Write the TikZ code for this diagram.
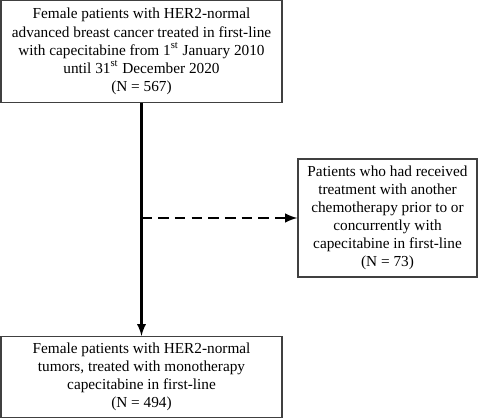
\documentclass[tikz,border=0pt]{standalone}
\usepackage{fontspec}
\setmainfont{Liberation Serif}
\usepackage{tikz}
\usetikzlibrary{calc}

\tikzset{
  flowbox/.style={draw=black!75, line width=0.6pt, align=center, inner sep=2pt,
    font=\fontsize{8.7}{10.3}\selectfont},
  flowline/.style={line width=1.3pt, ->, >=latex}
}

\begin{document}
\begin{tikzpicture}
    \useasboundingbox (0,0) rectangle (9.58,-8.36);
    \node[flowbox, minimum width=5.62cm, minimum height=2.04cm] (cohort) at (2.83,-1.03)
      {Female patients with HER2-normal\\
       advanced breast cancer treated in first-line\\
       with capecitabine from 1\textsuperscript{st} January 2010\\
       until 31\textsuperscript{st} December 2020\\
       (N = 567)};
    \node[flowbox, minimum width=3.58cm, minimum height=2.36cm] (excluded) at (7.75,-4.36)
      {Patients who had received\\
       treatment with another\\
       chemotherapy prior to or\\
       concurrently with\\
       capecitabine in first-line\\
       (N = 73)};
    \node[flowbox, minimum width=5.62cm, minimum height=1.62cm] (final) at (2.83,-7.54)
      {Female patients with HER2-normal\\
       tumors, treated with monotherapy\\
       capecitabine in first-line\\
       (N = 494)};
    \coordinate (split) at (cohort.south |- excluded.west);
    \draw [flowline] (cohort.south) -- (final.north);
    \draw [flowline, line width=1.4pt, dash pattern=on 6pt off 3.5pt] (split) -- (excluded.west);
\end{tikzpicture}
\end{document}
